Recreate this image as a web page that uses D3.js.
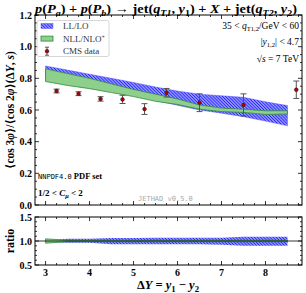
<!DOCTYPE html>
<html lang="en">
<head>
<meta charset="utf-8">
<title>cos3phi / cos2phi ratio</title>
<script src="https://cdnjs.cloudflare.com/ajax/libs/d3/7.8.5/d3.min.js"></script>
<style>
  body { margin: 0; background: #fff; }
  text { font-family: "Liberation Serif", "DejaVu Serif", serif; }
  .tick-label { font-size: 10px; font-weight: bold; }
  .mono { font-family: "DejaVu Sans Mono", "Liberation Mono", monospace; }
</style>
</head>
<body>
<div id="chart"></div>
<script>
// band grid (Delta Y)
var bandX = [3, 3.5, 4, 4.5, 5, 5.5, 6, 6.5, 7, 7.5, 8, 8.5];
// LL/LO band
var lloHigh = [0.878, 0.852, 0.826, 0.800, 0.774, 0.745, 0.720, 0.700, 0.690, 0.680, 0.652, 0.628];
var lloLow  = [0.800, 0.780, 0.760, 0.730, 0.695, 0.660, 0.630, 0.600, 0.580, 0.558, 0.530, 0.500];
// NLL/NLO+ band
var nllHigh = [0.860, 0.830, 0.800, 0.765, 0.730, 0.700, 0.670, 0.632, 0.612, 0.605, 0.595, 0.595];
var nllLow  = [0.780, 0.755, 0.735, 0.710, 0.685, 0.655, 0.635, 0.605, 0.590, 0.585, 0.572, 0.575];
// ratio panel bands
var ratioLloHigh = [1.010, 1.045, 1.045, 1.060, 1.060, 1.070, 1.070, 1.070, 1.070, 1.090, 1.090, 1.090];
var ratioLloLow  = [0.990, 0.965, 0.965, 0.930, 0.930, 0.930, 0.930, 0.930, 0.920, 0.900, 0.900, 0.900];
var ratioNllHigh = [1.045, 1.015, 1.015, 1.015, 1.015, 1.015, 1.015, 1.015, 1.015, 1.015, 1.015, 1.015];
var ratioNllLow  = [0.955, 0.985, 0.985, 0.985, 0.985, 0.985, 0.985, 0.985, 0.985, 0.985, 0.985, 0.985];
// CMS data
var cmsX   = [3.25, 3.75, 4.25, 4.75, 5.25, 5.75, 6.5, 7.5, 8.7];
var cmsY   = [0.720, 0.703, 0.670, 0.667, 0.606, 0.709, 0.646, 0.632, 0.728];
var cmsErr = [0.012, 0.012, 0.014, 0.026, 0.034, 0.027, 0.056, 0.070, 0.055];
// ticks
var xTicks = [3, 4, 5, 6, 7, 8];
var yTicks = [0.0, 0.2, 0.4, 0.6, 0.8, 1.0, 1.2];
var ratioTicks = [0.5, 1.0, 1.5];

var width = 306, height = 293;
var left = 35, right = 302;
var mainTop = 15, mainBottom = 205;
var ratioTop = 217, ratioBottom = 265;

var svg = d3.select("#chart").append("svg")
    .attr("width", width).attr("height", height);

var defs = svg.append("defs");
var pb = defs.append("pattern").attr("id", "blueHatch")
    .attr("patternUnits", "userSpaceOnUse").attr("width", 2.2).attr("height", 2.2)
    .attr("patternTransform", "rotate(45)");
pb.append("rect").attr("width", 2.2).attr("height", 2.2).attr("fill", "#d4d4ff");
pb.append("line").attr("x1", 0).attr("y1", 1.1).attr("x2", 2.2).attr("y2", 1.1)
    .attr("stroke", "#2222ff").attr("stroke-width", 1.3);
var pg = defs.append("pattern").attr("id", "greenHatch")
    .attr("patternUnits", "userSpaceOnUse").attr("width", 2).attr("height", 2)
    .attr("patternTransform", "rotate(-45)");
pg.append("rect").attr("width", 2).attr("height", 2).attr("fill", "#a6dba2");
pg.append("line").attr("x1", 0).attr("y1", 1).attr("x2", 2).attr("y2", 1)
    .attr("stroke", "#62b862").attr("stroke-width", 0.7);

var x = d3.scaleLinear().domain([2.76, 8.83]).range([left, right]);
var y = d3.scaleLinear().domain([0, 1.2]).range([mainBottom, mainTop]);
var yr = d3.scaleLinear().domain([0.5, 1.5]).range([ratioBottom, ratioTop]);

function band(ys, lo, hi) {
    return d3.area()
        .x(function(d, i) { return x(bandX[i]); })
        .y0(function(d, i) { return ys(lo[i]); })
        .y1(function(d, i) { return ys(hi[i]); })(bandX);
}

// ---- main panel ----
svg.append("path").attr("d", band(y, lloLow, lloHigh))
    .attr("fill", "url(#blueHatch)").attr("stroke", "#4040ff").attr("stroke-width", 0.4);
svg.append("path").attr("d", band(y, nllLow, nllHigh))
    .attr("fill", "url(#greenHatch)").attr("stroke", "#2e8b3e").attr("stroke-width", 0.8);

// CMS points
var pts = svg.append("g");
cmsX.forEach(function(v, i) {
    var cx = x(v), y0 = y(cmsY[i] - cmsErr[i]), y1 = y(cmsY[i] + cmsErr[i]);
    pts.append("line").attr("x1", cx).attr("x2", cx).attr("y1", y0).attr("y2", y1)
        .attr("stroke", "#555").attr("stroke-width", 1);
    [y0, y1].forEach(function(yy) {
        pts.append("line").attr("x1", cx - 3).attr("x2", cx + 3).attr("y1", yy).attr("y2", yy)
            .attr("stroke", "#555").attr("stroke-width", 1);
    });
    pts.append("circle").attr("cx", cx).attr("cy", y(cmsY[i])).attr("r", 1.9)
        .attr("fill", "#b00000").attr("stroke", "#222").attr("stroke-width", 0.5);
});

// ---- ratio panel ----
svg.append("path").attr("d", band(yr, ratioLloLow, ratioLloHigh))
    .attr("fill", "url(#blueHatch)").attr("stroke", "none");
svg.append("path").attr("d", band(yr, ratioNllLow, ratioNllHigh))
    .attr("fill", "url(#greenHatch)").attr("stroke", "#2e8b3e").attr("stroke-width", 0.8);
svg.append("line").attr("x1", left).attr("x2", right).attr("y1", yr(1)).attr("y2", yr(1))
    .attr("stroke", "#000").attr("stroke-width", 0.8);

// ---- frames and ticks ----
function frame(ys, yTop, yBot, yMajor, yMinorStep, showX) {
    var g = svg.append("g");
    g.append("rect").attr("x", left).attr("y", yTop).attr("width", right - left).attr("height", yBot - yTop)
        .attr("fill", "none").attr("stroke", "#000").attr("stroke-width", 1);
    var xMinor = d3.range(2.75, 8.85, 0.25).filter(function(t) { return x(t) > left && x(t) < right; });
    xMinor.forEach(function(t) {
        var major = Math.abs(t - Math.round(t)) < 1e-6;
        var len = major ? 4 : 2;
        g.append("line").attr("x1", x(t)).attr("x2", x(t)).attr("y1", yBot).attr("y2", yBot - len).attr("stroke", "#000").attr("stroke-width", 0.8);
        g.append("line").attr("x1", x(t)).attr("x2", x(t)).attr("y1", yTop).attr("y2", yTop + len).attr("stroke", "#000").attr("stroke-width", 0.8);
    });
    var d = ys.domain();
    var yMinor = d3.range(d[0], d[1] + 1e-6, yMinorStep);
    yMinor.forEach(function(t) {
        var major = yMajor.some(function(m) { return Math.abs(m - t) < 1e-6; });
        var len = major ? 4 : 2;
        g.append("line").attr("x1", left).attr("x2", left + len).attr("y1", ys(t)).attr("y2", ys(t)).attr("stroke", "#000").attr("stroke-width", 0.8);
        g.append("line").attr("x1", right).attr("x2", right - len).attr("y1", ys(t)).attr("y2", ys(t)).attr("stroke", "#000").attr("stroke-width", 0.8);
    });
    yMajor.forEach(function(t) {
        g.append("text").attr("class", "tick-label").attr("x", left - 3).attr("y", ys(t) + 3.5)
            .attr("text-anchor", "end").text(t.toFixed(1));
    });
    if (showX) {
        xTicks.forEach(function(t) {
            g.append("text").attr("class", "tick-label").attr("x", x(t)).attr("y", yBot + 11)
                .attr("text-anchor", "middle").text(t);
        });
    }
}
frame(y, mainTop, mainBottom, yTicks, 0.05, false);
frame(yr, ratioTop, ratioBottom, ratioTicks, 0.1, true);

// ---- legend ----
var lg = svg.append("g");
lg.append("rect").attr("x", 37).attr("y", 20.5).attr("width", 72).attr("height", 36).attr("rx", 2)
    .attr("fill", "#fff").attr("fill-opacity", 0.85).attr("stroke", "#ccc").attr("stroke-width", 0.8);
var legendItems = [["LL/LO", "blue"], ["NLL/NLO", "green"], ["CMS data", "cms"]];
legendItems.forEach(function(it, i) {
    var ly = 26 + i * 12.6;
    if (it[1] === "blue") {
        lg.append("rect").attr("x", 41).attr("y", ly - 2.5).attr("width", 12).attr("height", 5)
            .attr("fill", "url(#blueHatch)").attr("stroke", "#4040ff").attr("stroke-width", 0.4);
    } else if (it[1] === "green") {
        lg.append("rect").attr("x", 41).attr("y", ly - 2.5).attr("width", 12).attr("height", 5)
            .attr("fill", "url(#greenHatch)").attr("stroke", "#2e8b3e").attr("stroke-width", 0.8);
    } else {
        lg.append("line").attr("x1", 47).attr("x2", 47).attr("y1", ly - 4).attr("y2", ly + 4).attr("stroke", "#555");
        lg.append("line").attr("x1", 45).attr("x2", 49).attr("y1", ly - 4).attr("y2", ly - 4).attr("stroke", "#555");
        lg.append("line").attr("x1", 45).attr("x2", 49).attr("y1", ly + 4).attr("y2", ly + 4).attr("stroke", "#555");
        lg.append("circle").attr("cx", 47).attr("cy", ly).attr("r", 1.9).attr("fill", "#b00000").attr("stroke", "#222").attr("stroke-width", 0.5);
    }
    var t = lg.append("text").attr("x", 63).attr("y", ly + 3).attr("font-size", 9).attr("fill", "#333").text(it[0]);
    if (it[1] === "green") t.append("tspan").attr("baseline-shift", "super").attr("font-size", 6).text("+");
});

// ---- annotations ----
function mathText(parent, xx, yy, anchor, size, parts) {
    var t = parent.append("text").attr("x", xx).attr("y", yy).attr("text-anchor", anchor).attr("font-size", size);
    parts.forEach(function(p) {
        var s = t.append("tspan").text(p[0]);
        if (p[1].indexOf("i") >= 0) s.attr("font-style", "italic");
        if (p[1].indexOf("b") >= 0) s.attr("font-weight", "bold");
        if (p[1].indexOf("s") >= 0) s.attr("font-size", size * 0.7).attr("dy", size * 0.25);
        if (p[1].indexOf("u") >= 0) s.attr("dy", -size * 0.25);
    });
    return t;
}
var ann = svg.append("g");
mathText(ann, 299, 28.5, "end", 9.5, [["35 < ", ""], ["q", "i"], ["T1,2", "s"], ["/GeV < 60", "u"]]);
mathText(ann, 299, 45, "end", 9.5, [["|", ""], ["y", "i"], ["1,2", "s"], ["| < 4.7", "u"]]);
mathText(ann, 299, 61.5, "end", 9.5, [["\u221A", ""], ["s", "i"], [" = 7 TeV", ""]]);

// title
var title = mathText(svg, 166, 13, "middle", 12.5, [
    ["p", "ib"], ["(", "b"], ["P", "ib"], ["a", "sib"], [") + ", "ub"], ["p", "ib"], ["(", "b"], ["P", "ib"], ["b", "sib"],
    [") \u2192 jet(", "ub"], ["q", "ib"], ["T1", "sib"], [", ", "ub"], ["y", "ib"], ["1", "sb"], [") + ", "ub"],
    ["X", "ib"], [" + jet(", "b"], ["q", "ib"], ["T2", "sib"], [", ", "ub"], ["y", "ib"], ["2", "sb"], [")", "ub"]]);
title.attr("textLength", 262).attr("lengthAdjust", "spacingAndGlyphs");

// lower-left notes
var n1 = ann.append("text").attr("x", 38).attr("y", 178.5).attr("font-size", 8.5);
n1.append("tspan").attr("class", "mono").attr("font-size", 7).text("NNPDF4.0");
n1.append("tspan").attr("font-weight", "bold").text(" PDF set");
mathText(ann, 38, 196, "start", 9, [["1/2 < ", "b"], ["C", "ib"], ["\u03BC", "sib"], [" < 2", "ub"]]);
ann.append("text").attr("class", "mono").attr("x", 138).attr("y", 200.5).attr("font-size", 7)
    .attr("fill", "#aaa").text("JETHAD v0.5.0");

// axis titles
mathText(svg, 14, 110, "middle", 11.5, [["\u27E8cos 3", "b"], ["\u03C6", "ib"], ["\u27E9/\u27E8cos 2", "b"], ["\u03C6", "ib"],
    ["\u27E9(\u0394", "b"], ["Y", "ib"], [", ", "b"], ["s", "ib"], [")", "b"]])
    .attr("transform", "rotate(-90,14,110)");
svg.append("text").attr("x", 14).attr("y", 241).attr("text-anchor", "middle").attr("font-size", 12)
    .attr("font-weight", "bold").attr("transform", "rotate(-90,14,241)").text("ratio");
mathText(svg, 168, 289, "middle", 12.5, [["\u0394", "b"], ["Y", "ib"], [" = ", "b"], ["y", "ib"], ["1", "sb"],
    [" \u2212 ", "ub"], ["y", "ib"], ["2", "sb"]]);
</script>
</body>
</html>
